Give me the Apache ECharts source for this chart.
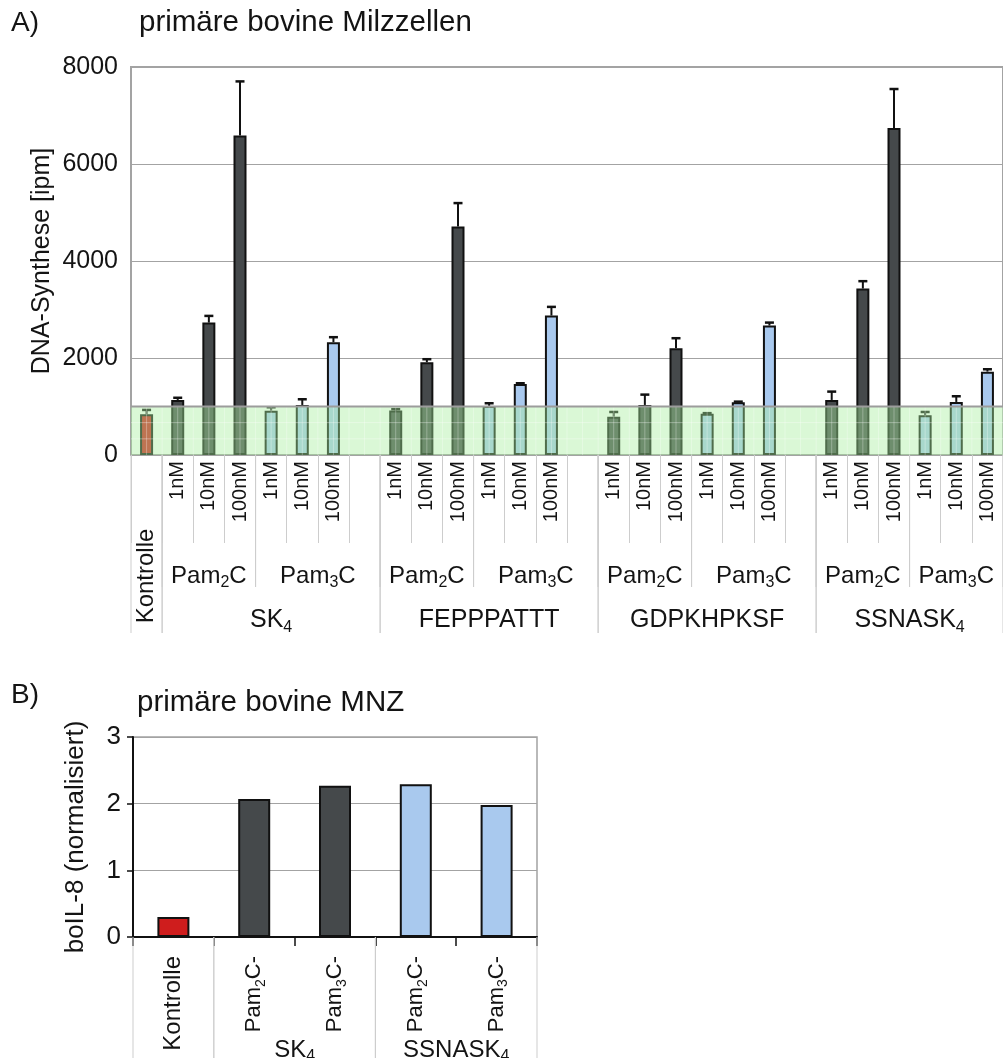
<!DOCTYPE html>
<html>
<head>
<meta charset="utf-8">
<script src="https://cdn.jsdelivr.net/npm/echarts@6/dist/echarts.min.js"></script>
<style>
  html, body { margin: 0; padding: 0; background: #fff; }
  #chart { width: 1003px; height: 1058px; }
</style>
</head>
<body>
<div id="chart"></div>
<script>
const FONT = '"Liberation Sans", Arial, Helvetica, sans-serif';

// ---------- Panel A: DNA synthesis in primary bovine spleen cells ----------
const concentrations = ['1nM', '10nM', '100nM'];
const kontrolleValue = 840;
const kontrolleErr = 89;

const sk4Pam2 = [1135, 2730, 6590];
const sk4Pam2Err = [45, 138, 1113];
const sk4Pam3 = [914, 1032, 2326];
const sk4Pam3Err = [70, 117, 103];

const fepPam2 = [915, 1913, 4711];
const fepPam2Err = [30, 62, 483];
const fepPam3 = [1011, 1465, 2875];
const fepPam3Err = [56, 15, 179];

const gdpPam2 = [791, 1032, 2201];
const gdpPam2Err = [96, 213, 207];
const gdpPam3 = [853, 1087, 2669];
const gdpPam3Err = [10, 13, 61];

const ssnPam2 = [1135, 3432, 6742];
const ssnPam2Err = [172, 152, 804];
const ssnPam3 = [819, 1094, 1719];
const ssnPam3Err = [68, 117, 49];

const peptideNames = ['SK{s|4}', 'FEPPPATTT', 'GDPKHPKSF', 'SSNASK{s|4}'];
const pam2Sets = [sk4Pam2, fepPam2, gdpPam2, ssnPam2];
const pam2ErrSets = [sk4Pam2Err, fepPam2Err, gdpPam2Err, ssnPam2Err];
const pam3Sets = [sk4Pam3, fepPam3, gdpPam3, ssnPam3];
const pam3ErrSets = [sk4Pam3Err, fepPam3Err, gdpPam3Err, ssnPam3Err];

const yTicksA = { min: 0, max: 8000, interval: 2000 };
const bandRange = [0, 1000];   // shaded background range
const bandHatch = [333, 667];  // faint lines inside the band

// ---------- Panel B: boIL-8 in primary bovine PBMC ----------
const bCategories = ['Kontrolle', '{p|Pam}{s|2}{p|C-}', '{p|Pam}{s|3}{p|C-}', '{p|Pam}{s|2}{p|C-}', '{p|Pam}{s|3}{p|C-}'];
const bKontrolle = [0.30, null, null, null, null];
const bSK4 = [null, 2.07, 2.27, null, null];
const bSSNASK4 = [null, null, null, 2.29, 1.98];
const bGroups = [[0, 1, ''], [1, 3, 'SK{s|4}'], [3, 5, 'SSNASK{s|4}']];
const yTicksB = { min: 0, max: 3, interval: 1 };

// ---------- build slot arrays for panel A ----------
const xLabels = [''];
const kData = [kontrolleValue];
const p2Data = [null];
const p3Data = [null];
const errData = [[0, kontrolleValue, kontrolleErr]];
const cells = [[0, 0, 1, 3]];          // [start, y, end, level]
const cellText = ['Kontrolle'];

peptideNames.forEach((name, gi) => {
  const start = xLabels.length;
  pam2Sets[gi].forEach((v, i) => {
    xLabels.push(concentrations[i]);
    kData.push(null); p2Data.push(v); p3Data.push(null);
    errData.push([xLabels.length - 1, v, pam2ErrSets[gi][i]]);
  });
  cells.push([start, 0, xLabels.length, 1]);
  cellText.push('{m|Pam}{s|2}{m|C}');
  const s3 = xLabels.length;
  pam3Sets[gi].forEach((v, i) => {
    xLabels.push(concentrations[i]);
    kData.push(null); p2Data.push(null); p3Data.push(v);
    errData.push([xLabels.length - 1, v, pam3ErrSets[gi][i]]);
  });
  if (gi < peptideNames.length - 1) {
    xLabels.push('');
    kData.push(null); p2Data.push(null); p3Data.push(null);
  }
  cells.push([s3, 0, xLabels.length, 1]);
  cellText.push('{m|Pam}{s|3}{m|C}');
  cells.push([start, 0, xLabels.length, 2]);
  cellText.push(name);
});

const C_DARK = '#45494b';
const C_BLUE = '#a9c9ee';
const C_RED = '#cf1d1d';
const C_GRID = '#a3a3a3';
const C_SEP = '#cdcdcd';
const C_TEXT = '#141414';

const richMain = (size) => ({
  m: { fontFamily: FONT, fontSize: size, color: C_TEXT, lineHeight: size + 6 },
  p: { fontFamily: FONT, fontSize: size, color: C_TEXT, lineHeight: size + 6 },
  s: { fontFamily: FONT, fontSize: Math.round(size * 0.65), color: C_TEXT, lineHeight: Math.round(size * 0.65), verticalAlign: 'bottom' }
});
const plainNumber = v => String(v);

const chart = echarts.init(document.getElementById('chart'), null, { renderer: 'canvas' });

const option = {
  animation: false,
  backgroundColor: '#fff',
  textStyle: { fontFamily: FONT },
  graphic: [
    { type: 'text', x: 11, y: 23, style: { text: 'A)', font: '28px ' + FONT, fill: C_TEXT, verticalAlign: 'middle' } },
    { type: 'text', x: 139, y: 23, style: { text: 'primäre bovine Milzzellen', font: '29.5px ' + FONT, fill: C_TEXT, verticalAlign: 'middle' } },
    { type: 'text', x: 42, y: 261, rotation: Math.PI / 2, style: { text: 'DNA-Synthese [ipm]', font: '25px ' + FONT, fill: C_TEXT, align: 'center', verticalAlign: 'middle' } },
    { type: 'text', x: 11, y: 695, style: { text: 'B)', font: '28px ' + FONT, fill: C_TEXT, verticalAlign: 'middle' } },
    { type: 'text', x: 137, y: 703, style: { text: 'primäre bovine MNZ', font: '29.5px ' + FONT, fill: C_TEXT, verticalAlign: 'middle' } },
    { type: 'text', x: 76, y: 837, rotation: Math.PI / 2, style: { text: 'boIL-8 (normalisiert)', font: '26px ' + FONT, fill: C_TEXT, align: 'center', verticalAlign: 'middle' } }
  ],
  grid: [
    { left: 131, top: 67, width: 877, height: 388, show: true, borderColor: C_GRID, borderWidth: 2, backgroundColor: 'transparent' },
    { left: 133, top: 737, width: 404, height: 200, show: true, borderColor: C_GRID, borderWidth: 1.5, backgroundColor: 'transparent' }
  ],
  xAxis: [
    {
      type: 'category', gridIndex: 0, data: xLabels,
      axisLine: { lineStyle: { color: C_GRID, width: 2 } },
      axisTick: { show: true, interval: 0, length: 88, lineStyle: { color: C_SEP, width: 1 } },
      axisLabel: { interval: 0, rotate: 90, fontSize: 20, margin: 6, color: C_TEXT, fontFamily: FONT },
      splitLine: { show: false }
    },
    {
      type: 'category', gridIndex: 1, data: bCategories,
      axisLine: { lineStyle: { color: '#111', width: 2 } },
      axisTick: { show: true, interval: 0, length: 9, lineStyle: { color: '#111', width: 1.5 } },
      axisLabel: {
        interval: 0, rotate: 90, margin: 19, color: C_TEXT, fontFamily: FONT, fontSize: 24,
        rich: richMain(22)
      },
      splitLine: { show: false }
    }
  ],
  yAxis: [
    {
      type: 'value', gridIndex: 0, min: yTicksA.min, max: yTicksA.max, interval: yTicksA.interval,
      axisLine: { show: true, lineStyle: { color: C_GRID, width: 2 } },
      axisTick: { show: false },
      axisLabel: { fontSize: 25, margin: 13, color: C_TEXT, fontFamily: FONT, formatter: plainNumber },
      splitLine: { lineStyle: { color: C_GRID, width: 1 } }
    },
    {
      type: 'value', gridIndex: 1, min: yTicksB.min, max: yTicksB.max, interval: yTicksB.interval,
      axisLine: { show: true, lineStyle: { color: '#111', width: 2 } },
      axisTick: { show: true, length: 6, lineStyle: { color: '#111', width: 1.5 } },
      axisLabel: { fontSize: 26, margin: 12, color: C_TEXT, fontFamily: FONT, formatter: plainNumber },
      splitLine: { lineStyle: { color: C_GRID, width: 1 } }
    }
  ],
  series: [
    // ---- panel A bars ----
    { name: 'Kontrolle', type: 'bar', xAxisIndex: 0, yAxisIndex: 0, data: kData, barWidth: 13, barGap: '-100%', z: 2,
      itemStyle: { color: C_RED, borderColor: '#111', borderWidth: 2 } },
    { name: 'Pam2C', type: 'bar', xAxisIndex: 0, yAxisIndex: 0, data: p2Data, barWidth: 13, barGap: '-100%', z: 2,
      itemStyle: { color: C_DARK, borderColor: '#111', borderWidth: 2 } },
    { name: 'Pam3C', type: 'bar', xAxisIndex: 0, yAxisIndex: 0, data: p3Data, barWidth: 13, barGap: '-100%', z: 2,
      itemStyle: { color: C_BLUE, borderColor: '#111', borderWidth: 2 } },
    // ---- panel A error bars (upper only) ----
    {
      name: 'err', type: 'custom', xAxisIndex: 0, yAxisIndex: 0, data: errData, z: 3,
      renderItem(params, api) {
        const x = api.value(0), v = api.value(1), e = api.value(2);
        const base = api.coord([x, v]);
        const top = api.coord([x, v + e]);
        return {
          type: 'group',
          children: [
            { type: 'line', shape: { x1: base[0], y1: base[1], x2: top[0], y2: top[1] }, style: { stroke: '#111', lineWidth: 2 } },
            { type: 'line', shape: { x1: top[0] - 4.5, y1: top[1], x2: top[0] + 4.5, y2: top[1] }, style: { stroke: '#111', lineWidth: 2.5 } }
          ]
        };
      }
    },
    // ---- panel A shaded band over 0–1000 ----
    {
      name: 'band', type: 'custom', xAxisIndex: 0, yAxisIndex: 0, data: [[0, bandRange[0], bandRange[1]]], z: 10, silent: true,
      renderItem(params, api) {
        const cs = params.coordSys;
        const yLow = api.coord([0, api.value(1)])[1];
        const yHigh = api.coord([0, api.value(2)])[1];
        const w = api.size([1, 0])[0];
        const children = [
          { type: 'rect', shape: { x: cs.x, y: yHigh, width: cs.width, height: yLow - yHigh }, style: { fill: 'rgba(168,238,158,0.42)' } }
        ];
        bandHatch.forEach(h => {
          const y = api.coord([0, h])[1];
          children.push({ type: 'line', shape: { x1: cs.x, y1: y, x2: cs.x + cs.width, y2: y }, style: { stroke: 'rgba(255,255,255,0.35)', lineWidth: 1 } });
        });
        for (let xx = cs.x + w / 2; xx < cs.x + cs.width; xx += w / 2) {
          children.push({ type: 'line', shape: { x1: xx, y1: yHigh, x2: xx, y2: yLow }, style: { stroke: 'rgba(255,255,255,0.3)', lineWidth: 1 } });
        }
        children.push({ type: 'line', shape: { x1: cs.x, y1: yHigh, x2: cs.x + cs.width, y2: yHigh }, style: { stroke: '#9c9c9c', lineWidth: 2 } });
        return { type: 'group', children };
      }
    },
    // ---- panel A category table below the axis ----
    {
      name: 'table', type: 'custom', xAxisIndex: 0, yAxisIndex: 0, data: cells, z: 4, silent: true,
      renderItem(params, api) {
        const s = api.value(0), e = api.value(2), lvl = api.value(3);
        const w = api.size([1, 0])[0];
        const p = api.coord([s, 0]);
        const xL = p[0] - w / 2, xR = xL + (e - s) * w, yA = p[1];
        const depth = lvl === 1 ? 132 : 178;
        const text = cellText[params.dataIndex];
        const children = [
          { type: 'line', shape: { x1: xL, y1: yA, x2: xL, y2: yA + depth }, style: { stroke: C_SEP, lineWidth: 1 } },
          { type: 'line', shape: { x1: xR, y1: yA, x2: xR, y2: yA + depth }, style: { stroke: C_SEP, lineWidth: 1 } }
        ];
        if (lvl === 3) {
          children.push({ type: 'text', x: (xL + xR) / 2, y: yA + 121, rotation: Math.PI / 2,
            style: { text, font: '24px ' + FONT, fill: C_TEXT, align: 'center', verticalAlign: 'middle' } });
        } else {
          const size = lvl === 1 ? 24 : 25;
          const t = lvl === 1 ? text : (text.indexOf('{') >= 0 ? text.replace(/^([^{]+)/, '{m|$1}') : '{m|' + text + '}');
          children.push({ type: 'text', x: (xL + xR) / 2, y: yA + (lvl === 1 ? 121 : 165),
            style: { text: t, rich: richMain(size), align: 'center', verticalAlign: 'middle', fill: C_TEXT } });
        }
        return { type: 'group', children };
      }
    },
    // ---- panel B bars ----
    { name: 'B Kontrolle', type: 'bar', xAxisIndex: 1, yAxisIndex: 1, data: bKontrolle, barWidth: 32, barGap: '-100%',
      itemStyle: { color: C_RED, borderColor: '#111', borderWidth: 2 } },
    { name: 'B SK4', type: 'bar', xAxisIndex: 1, yAxisIndex: 1, data: bSK4, barWidth: 32, barGap: '-100%',
      itemStyle: { color: C_DARK, borderColor: '#111', borderWidth: 2 } },
    { name: 'B SSNASK4', type: 'bar', xAxisIndex: 1, yAxisIndex: 1, data: bSSNASK4, barWidth: 32, barGap: '-100%',
      itemStyle: { color: C_BLUE, borderColor: '#111', borderWidth: 2 } },
    // ---- panel B group separators and labels ----
    {
      name: 'bTable', type: 'custom', xAxisIndex: 1, yAxisIndex: 1, silent: true, z: 4,
      data: bGroups.map(g => [g[0], 0, g[1]]),
      renderItem(params, api) {
        const s = api.value(0), e = api.value(2);
        const w = api.size([1, 0])[0];
        const p = api.coord([s, 0]);
        const xL = p[0] - w / 2, xR = xL + (e - s) * w, yA = p[1];
        const text = bGroups[params.dataIndex][2];
        const children = [
          { type: 'line', shape: { x1: xL, y1: yA, x2: xL, y2: yA + 140 }, style: { stroke: C_SEP, lineWidth: 1 } },
          { type: 'line', shape: { x1: xR, y1: yA, x2: xR, y2: yA + 140 }, style: { stroke: C_SEP, lineWidth: 1 } }
        ];
        if (text) {
          children.push({ type: 'text', x: (xL + xR) / 2, y: yA + 113,
            style: { text: text.replace(/^([^{]+)/, '{m|$1}'), rich: richMain(24), align: 'center', verticalAlign: 'middle', fill: C_TEXT } });
        }
        return { type: 'group', children };
      }
    }
  ]
};

chart.setOption(option);
</script>
</body>
</html>
